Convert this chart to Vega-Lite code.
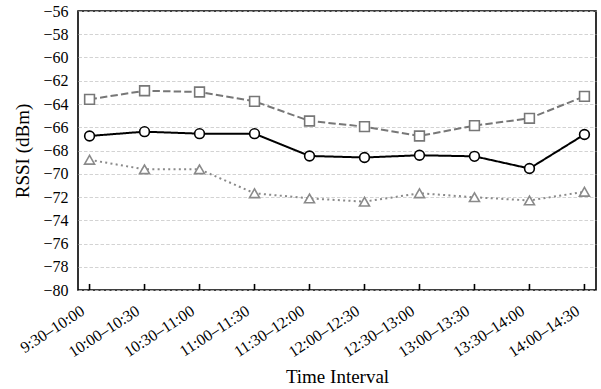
{
  "$schema": "https://vega.github.io/schema/vega-lite/v6.json",
  "width": 518,
  "height": 279,
  "autosize": {"type": "none"},
  "padding": {"left": 78, "top": 11, "right": 5, "bottom": 99},
  "background": "white",
  "config": {
    "font": "Liberation Serif",
    "view": {"stroke": "black", "strokeWidth": 1.6},
    "axis": {
      "labelColor": "black",
      "titleColor": "black",
      "titleFontWeight": "normal"
    }
  },
  "data": {
    "values": [
      {"interval": "9:30–10:00", "series": "Lowest", "rssi": -66.75},
      {"interval": "10:00–10:30", "series": "Lowest", "rssi": -66.38},
      {"interval": "10:30–11:00", "series": "Lowest", "rssi": -66.55},
      {"interval": "11:00–11:30", "series": "Lowest", "rssi": -66.55},
      {"interval": "11:30–12:00", "series": "Lowest", "rssi": -68.47},
      {"interval": "12:00–12:30", "series": "Lowest", "rssi": -68.6},
      {"interval": "12:30–13:00", "series": "Lowest", "rssi": -68.41},
      {"interval": "13:00–13:30", "series": "Lowest", "rssi": -68.5},
      {"interval": "13:30–14:00", "series": "Lowest", "rssi": -69.55},
      {"interval": "14:00–14:30", "series": "Lowest", "rssi": -66.62},
      {"interval": "9:30–10:00", "series": "Lower", "rssi": -63.6},
      {"interval": "10:00–10:30", "series": "Lower", "rssi": -62.86},
      {"interval": "10:30–11:00", "series": "Lower", "rssi": -62.97},
      {"interval": "11:00–11:30", "series": "Lower", "rssi": -63.77},
      {"interval": "11:30–12:00", "series": "Lower", "rssi": -65.46},
      {"interval": "12:00–12:30", "series": "Lower", "rssi": -65.95},
      {"interval": "12:30–13:00", "series": "Lower", "rssi": -66.75},
      {"interval": "13:00–13:30", "series": "Lower", "rssi": -65.86},
      {"interval": "13:30–14:00", "series": "Lower", "rssi": -65.23},
      {"interval": "14:00–14:30", "series": "Lower", "rssi": -63.34},
      {"interval": "9:30–10:00", "series": "Standard", "rssi": -68.8},
      {"interval": "10:00–10:30", "series": "Standard", "rssi": -69.62},
      {"interval": "10:30–11:00", "series": "Standard", "rssi": -69.62},
      {"interval": "11:00–11:30", "series": "Standard", "rssi": -71.68},
      {"interval": "11:30–12:00", "series": "Standard", "rssi": -72.12},
      {"interval": "12:00–12:30", "series": "Standard", "rssi": -72.4},
      {"interval": "12:30–13:00", "series": "Standard", "rssi": -71.68},
      {"interval": "13:00–13:30", "series": "Standard", "rssi": -72.02},
      {"interval": "13:30–14:00", "series": "Standard", "rssi": -72.3},
      {"interval": "14:00–14:30", "series": "Standard", "rssi": -71.55}
    ]
  },
  "encoding": {
    "x": {
      "field": "interval",
      "type": "nominal",
      "sort": null,
      "scale": {"type": "point", "padding": 0.21},
      "axis": {
        "title": "Time Interval",
        "titleFontSize": 19,
        "titlePadding": 8,
        "labelFontSize": 16,
        "labelAngle": -33,
        "labelAlign": "right",
        "labelBaseline": "middle",
        "labelOffset": -7,
        "ticks": false,
        "tickSize": 0,
        "labelPadding": 19,
        "grid": false,
        "domain": false
      }
    },
    "y": {
      "field": "rssi",
      "type": "quantitative",
      "scale": {"domain": [-80, -56], "nice": false, "zero": false},
      "axis": {
        "title": "RSSI (dBm)",
        "titleFontSize": 19,
        "titlePadding": 10,
        "labelFontSize": 16,
        "values": [-80, -78, -76, -74, -72, -70, -68, -66, -64, -62, -60, -58, -56],
        "ticks": false,
        "tickSize": 0,
        "labelPadding": 10,
        "domain": false,
        "grid": true,
        "gridColor": "#c8c8c8",
        "gridDash": [3.5, 2],
        "gridWidth": 0.8
      }
    }
  },
  "layer": [
    {
      "transform": [{"filter": "datum.series == 'Lowest'"}],
      "mark": {"type": "rule", "color": "black", "strokeWidth": 1.6},
      "encoding": {
        "y": {"datum": -80, "type": "quantitative"},
        "y2": {"datum": -79.48}
      }
    },
    {
      "mark": {"type": "line", "strokeWidth": 2},
      "encoding": {
        "color": {
          "field": "series",
          "type": "nominal",
          "scale": {"domain": ["Lowest", "Lower", "Standard"], "range": ["#000000", "#777777", "#8a8a8a"]},
          "legend": null
        },
        "strokeDash": {
          "field": "series",
          "type": "nominal",
          "scale": {"domain": ["Lowest", "Lower", "Standard"], "range": [[1, 0], [7.4, 3.2], [2, 3.3]]},
          "legend": null
        }
      }
    },
    {
      "transform": [{"filter": "datum.series == 'Lowest'"}],
      "mark": {"type": "point", "shape": "circle", "filled": false, "fill": "white", "stroke": "#000000", "strokeWidth": 1.6, "size": 95, "opacity": 1}
    },
    {
      "transform": [{"filter": "datum.series == 'Lower'"}],
      "mark": {"type": "point", "shape": "square", "filled": false, "fill": "white", "stroke": "#777777", "strokeWidth": 1.6, "size": 95, "opacity": 1}
    },
    {
      "transform": [{"filter": "datum.series == 'Standard'"}],
      "mark": {"type": "point", "shape": "triangle-up", "filled": false, "fill": "white", "stroke": "#8a8a8a", "strokeWidth": 1.6, "size": 100, "opacity": 1}
    },
    {
      "mark": {"type": "point", "filled": false, "fill": "white", "size": 400, "strokeWidth": 1.8, "yOffset": 2000, "clip": true},
      "encoding": {
        "stroke": {
          "field": "series",
          "type": "nominal",
          "scale": {"domain": ["Lowest", "Lower", "Standard"], "range": ["#000000", "#777777", "#8a8a8a"]},
          "legend": {
            "title": null,
            "orient": "none",
            "legendX": 398,
            "legendY": 12,
            "symbolSize": 400,
            "labelFontSize": 16.5,
            "labelOffset": 24,
            "rowPadding": 5
          }
        },
        "shape": {
          "field": "series",
          "type": "nominal",
          "scale": {
            "domain": ["Lowest", "Lower", "Standard"],
            "range": [
              "M-1.9,0H-0.46M0.46,0H1.9M0.46,0A0.46,0.46,0,1,1,-0.46,0A0.46,0.46,0,1,1,0.46,0Z",
              "M-1.9,0H-1.16M-0.84,0H-0.5M0.5,0H0.96M1.28,0H1.9M-0.5,-0.5H0.5V0.5H-0.5Z",
              "M-1.6,0H-1.4M-1.05,0H-0.85M0.85,0H1.05M1.4,0H1.6M0,-0.52L0.52,0.38L-0.52,0.38Z"
            ]
          },
          "legend": {
            "title": null,
            "orient": "none",
            "legendX": 398,
            "legendY": 12,
            "symbolSize": 400,
            "labelFontSize": 16.5,
            "labelOffset": 24,
            "rowPadding": 5
          }
        }
      }
    }
  ]
}
